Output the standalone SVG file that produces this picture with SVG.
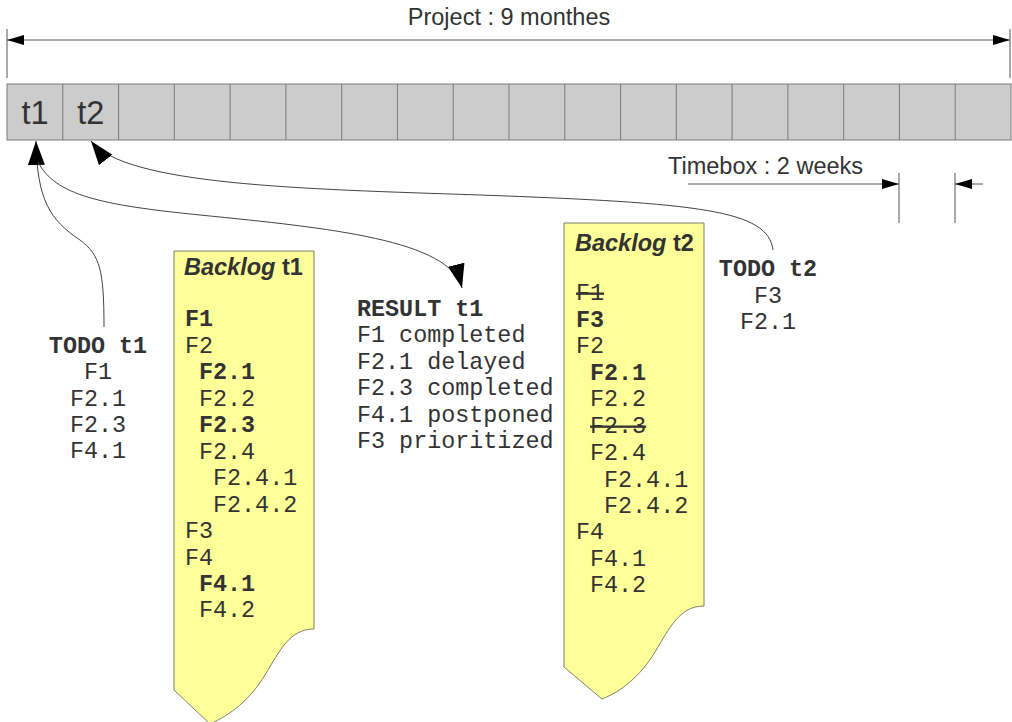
<svg xmlns="http://www.w3.org/2000/svg" width="1012" height="722" viewBox="0 0 1012 722">
<style>
.sans{font-family:"Liberation Sans",Arial,sans-serif;fill:#333333}
.mono{font-family:"Liberation Mono","Courier New",monospace;font-size:23.4px;fill:#333333}
.b{font-weight:bold}
.cell{fill:#cccccc;stroke:#7a7a7a;stroke-width:1}
.dim{stroke:#555555;stroke-width:1;fill:none}
.curve{stroke:#444444;stroke-width:1;fill:none}
.note{fill:#ffff99;stroke:#7f7f6a;stroke-width:1}
.strike{text-decoration:line-through}
</style>
<defs>
<marker id="small" markerUnits="userSpaceOnUse" markerWidth="18" markerHeight="12" refX="17" refY="5" orient="auto-start-reverse"><path d="M0,0 L17,5 L0,10 Z" fill="#000"/></marker>
<marker id="big" markerUnits="userSpaceOnUse" markerWidth="26" markerHeight="18" refX="24" refY="8.5" orient="auto"><path d="M0,0 L24,8.5 L0,17 Z" fill="#000"/></marker>
</defs>

<g id="project-dimension">
<line class="dim" x1="7" y1="29" x2="7" y2="78"/>
<line class="dim" x1="1010" y1="29" x2="1010" y2="78"/>
<line class="dim" x1="7" y1="40" x2="1010" y2="40" marker-start="url(#small)" marker-end="url(#small)"/>
<text class="sans" x="509" y="25" font-size="23.5" text-anchor="middle">Project : 9 monthes</text>
</g>

<g id="timeline">
<rect class="cell" x="7" y="84" width="1004" height="56"/>
<g class="cell">
<line x1="62.8" y1="84" x2="62.8" y2="140"/><line x1="118.6" y1="84" x2="118.6" y2="140"/><line x1="174.3" y1="84" x2="174.3" y2="140"/><line x1="230.1" y1="84" x2="230.1" y2="140"/><line x1="285.9" y1="84" x2="285.9" y2="140"/><line x1="341.7" y1="84" x2="341.7" y2="140"/><line x1="397.4" y1="84" x2="397.4" y2="140"/><line x1="453.2" y1="84" x2="453.2" y2="140"/><line x1="509" y1="84" x2="509" y2="140"/><line x1="564.8" y1="84" x2="564.8" y2="140"/><line x1="620.6" y1="84" x2="620.6" y2="140"/><line x1="676.3" y1="84" x2="676.3" y2="140"/><line x1="732.1" y1="84" x2="732.1" y2="140"/><line x1="787.9" y1="84" x2="787.9" y2="140"/><line x1="843.7" y1="84" x2="843.7" y2="140"/><line x1="899.4" y1="84" x2="899.4" y2="140"/><line x1="955.2" y1="84" x2="955.2" y2="140"/>
</g>
<text class="sans" x="35" y="124" font-size="32.5" text-anchor="middle">t1</text>
<text class="sans" x="90.7" y="124" font-size="32.5" text-anchor="middle">t2</text>
</g>

<g id="timebox-dimension">
<text class="sans" x="668" y="174" font-size="23.5">Timebox : 2 weeks</text>
<line class="dim" x1="899" y1="173" x2="899" y2="223"/>
<line class="dim" x1="955" y1="173" x2="955" y2="223"/>
<line class="dim" x1="688" y1="184" x2="899" y2="184" marker-end="url(#small)"/>
<line class="dim" x1="983" y1="184" x2="955" y2="184" marker-end="url(#small)"/>
</g>

<g id="connectors">
<path class="curve" d="M104,327 C104,270 100,255 80,240 C50,220 37,200 36,141" marker-end="url(#big)"/>
<path class="curve" d="M38,162 C55,195 100,205 200,215 C330,228 450,240 462,288" marker-end="url(#big)"/>
<path class="curve" d="M773,250 C768,210 700,203 480,195 C300,189 125,185 91,141" marker-end="url(#big)"/>
</g>

<g id="todo-t1">
<text class="mono b" x="98" y="353" text-anchor="middle">TODO t1</text>
<text class="mono" x="98" y="379" text-anchor="middle">F1</text>
<text class="mono" x="98" y="406" text-anchor="middle">F2.1</text>
<text class="mono" x="98" y="432" text-anchor="middle">F2.3</text>
<text class="mono" x="98" y="458" text-anchor="middle">F4.1</text>
</g>

<g id="backlog-t1">
<path class="note" d="M174,251 H314 V629 C290,629 280,650 265,675 C250,700 230,715 210,724 L174,690 Z"/>
<text class="sans b" x="184" y="275" font-size="23.5"><tspan font-style="italic">Backlog</tspan> t1</text>
<text class="mono b" x="185" y="326">F1</text>
<text class="mono" x="185" y="353">F2</text>
<text class="mono b" x="199" y="379">F2.1</text>
<text class="mono" x="199" y="406">F2.2</text>
<text class="mono b" x="199" y="432">F2.3</text>
<text class="mono" x="199" y="459">F2.4</text>
<text class="mono" x="213" y="485">F2.4.1</text>
<text class="mono" x="213" y="512">F2.4.2</text>
<text class="mono" x="185" y="538">F3</text>
<text class="mono" x="185" y="565">F4</text>
<text class="mono b" x="199" y="591">F4.1</text>
<text class="mono" x="199" y="617">F4.2</text>
</g>

<g id="result-t1">
<text class="mono b" x="357" y="316">RESULT t1</text>
<text class="mono" x="357" y="342">F1 completed</text>
<text class="mono" x="357" y="369">F2.1 delayed</text>
<text class="mono" x="357" y="395">F2.3 completed</text>
<text class="mono" x="357" y="422">F4.1 postponed</text>
<text class="mono" x="357" y="448">F3 prioritized</text>
</g>

<g id="backlog-t2">
<path class="note" d="M564,223 H704 V606 C680,606 670,627 655,652 C640,677 620,692 602,699 L564,667 Z"/>
<text class="sans b" x="575" y="251" font-size="23.5"><tspan font-style="italic">Backlog</tspan> t2</text>
<text class="mono strike" x="576" y="300">F1</text>
<text class="mono b" x="576" y="327">F3</text>
<text class="mono" x="576" y="353">F2</text>
<text class="mono b" x="590" y="380">F2.1</text>
<text class="mono" x="590" y="406">F2.2</text>
<text class="mono strike" x="590" y="433">F2.3</text>
<text class="mono" x="590" y="460">F2.4</text>
<text class="mono" x="604" y="487">F2.4.1</text>
<text class="mono" x="604" y="513">F2.4.2</text>
<text class="mono" x="576" y="539">F4</text>
<text class="mono" x="590" y="566">F4.1</text>
<text class="mono" x="590" y="592">F4.2</text>
</g>

<g id="todo-t2">
<text class="mono b" x="768" y="276" text-anchor="middle">TODO t2</text>
<text class="mono" x="768" y="303" text-anchor="middle">F3</text>
<text class="mono" x="768" y="329" text-anchor="middle">F2.1</text>
</g>
</svg>
